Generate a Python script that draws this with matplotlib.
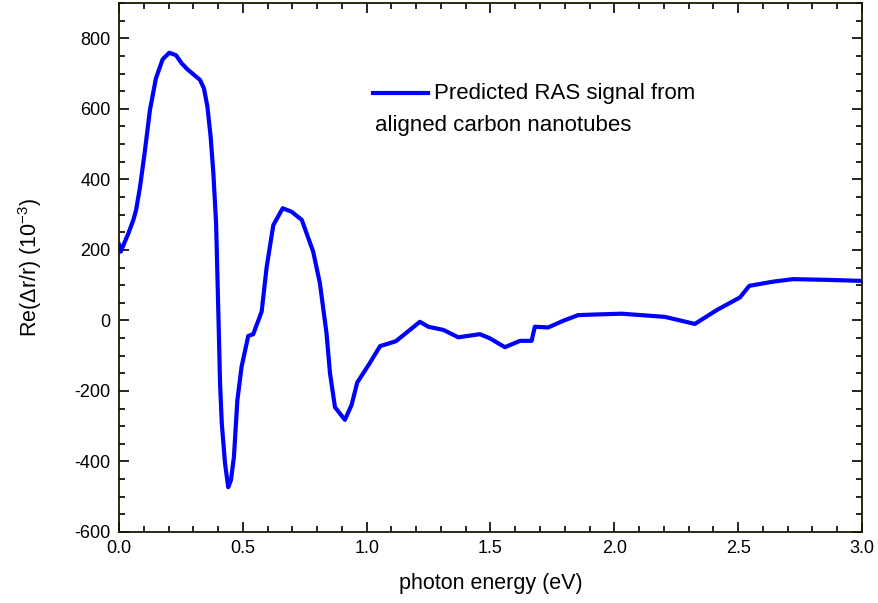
import matplotlib
matplotlib.use("Agg")
import matplotlib.pyplot as plt
from matplotlib.ticker import MultipleLocator

plt.rcParams['font.family'] = ['Liberation Sans', 'DejaVu Sans']
plt.rcParams['mathtext.fontset'] = 'custom'
plt.rcParams['mathtext.rm'] = 'Liberation Sans'
plt.rcParams['mathtext.it'] = 'Liberation Sans'
plt.rcParams['mathtext.bf'] = 'Liberation Sans'

# Predicted RAS spectrum of aligned carbon nanotubes
energy = [0.000, 0.007, 0.038, 0.058, 0.069, 0.085, 0.105, 0.125, 0.149, 0.176,
          0.203, 0.230, 0.253, 0.276, 0.300, 0.327, 0.343, 0.357, 0.370, 0.381,
          0.392, 0.398, 0.404, 0.408, 0.415, 0.428, 0.441, 0.452, 0.464, 0.478,
          0.495, 0.522, 0.542, 0.576, 0.596, 0.623, 0.661, 0.697, 0.738, 0.784,
          0.811, 0.838, 0.852, 0.872, 0.912, 0.939, 0.962, 1.010, 1.054, 1.118,
          1.215, 1.249, 1.310, 1.370, 1.457, 1.498, 1.558, 1.619, 1.666, 1.679,
          1.733, 1.794, 1.854, 1.935, 2.030, 2.204, 2.325, 2.413, 2.507, 2.545,
          2.642, 2.722, 2.857, 3.000]
re_dr = [215, 195, 247, 285, 313, 379, 483, 597, 686, 740,
         759, 752, 729, 712, 698, 682, 658, 606, 521, 417,
         276, 110, -60, -178, -292, -405, -473, -453, -387, -226,
         -131, -44, -39, 25, 150, 270, 318, 308, 285, 195,
         106, -37, -150, -246, -282, -240, -176, -124, -73, -59,
         -4, -18, -27, -48, -39, -51, -76, -58, -58, -18,
         -20, -1, 15, 17, 19, 10, -10, 29, 65, 98,
         110, 117, 115, 112]

x_ticks = [0.0, 0.5, 1.0, 1.5, 2.0, 2.5, 3.0]
y_ticks = [-600, -400, -200, 0, 200, 400, 600, 800]

fig = plt.figure(figsize=(8.79, 6.03), dpi=100)
ax = fig.add_axes([119 / 879, 1 - 532 / 603, 743 / 879, 529 / 603])

ax.plot(energy, re_dr, color='#0000ff', lw=3.0, solid_joinstyle='round')

ax.set_xlim(0, 3.0)
ax.set_ylim(-600, 900)
ax.set_xticks(x_ticks)
ax.set_xticklabels([f"{t:.1f}" for t in x_ticks])
ax.set_yticks(y_ticks)
ax.set_yticklabels([str(t) for t in y_ticks])
ax.xaxis.set_minor_locator(MultipleLocator(0.1))
ax.yaxis.set_minor_locator(MultipleLocator(50))

ax.tick_params(which='both', direction='in', top=True, right=True,
               width=1.2, labelsize=13, colors='black')
ax.tick_params(which='major', length=7, pad=6)
ax.tick_params(which='minor', length=4)
for s in ax.spines.values():
    s.set_linewidth(1.3)
    s.set_color('#1a1a00')

ax.set_xlabel('photon energy (eV)', fontsize=15.5, labelpad=11)
ax.set_ylabel(r'Re($\Delta$r/r) (10$^{-3}$)', fontsize=15.5, labelpad=22)

# legend entry drawn by hand so the label wraps under the sample line
ax.plot([(373 - 119) / 743, (428 - 119) / 743],
        [(532 - 93) / 529, (532 - 93) / 529],
        transform=ax.transAxes, color='#0000ff', lw=3.0)
ax.text((434 - 119) / 743, (532 - 93) / 529, 'Predicted RAS signal from',
        transform=ax.transAxes, fontsize=16, va='center', ha='left')
ax.text((375 - 119) / 743, (532 - 125) / 529, 'aligned carbon nanotubes',
        transform=ax.transAxes, fontsize=16, va='center', ha='left')

fig.savefig('out.png', dpi=100)
